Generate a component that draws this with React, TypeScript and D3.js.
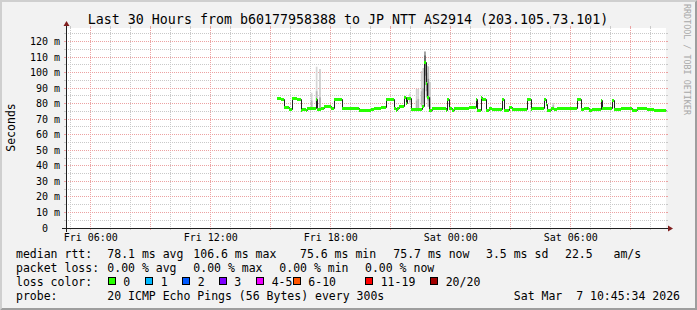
import React from 'react';
import * as d3 from 'd3';

// ---------- data ----------
const titleText = 'Last 30 Hours from b60177958388 to JP NTT AS2914 (203.105.73.101)';
const startTime = '2026-03-06T04:45:34';
const endTime = '2026-03-07T10:45:34';
const yMax = 128.7; // ms

const yMajorTicks = [0, 10, 20, 30, 40, 50, 60, 70, 80, 90, 100, 110, 120];
const yMinorTicks = [5, 15, 25, 35, 45, 55, 65, 75, 85, 95, 105, 115, 125];
const xLabelTimes = ['Fri 06:00', 'Fri 12:00', 'Fri 18:00', 'Sat 00:00', 'Sat 06:00'];

// median RTT (ms), constant runs: start of each run and its value
const runStart = [
  'Fri 15:20', 'Fri 15:30', 'Fri 15:40', 'Fri 15:55', 'Fri 16:05', 'Fri 16:20', 'Fri 16:30', 'Fri 16:35',
  'Fri 16:45', 'Fri 16:50', 'Fri 17:00', 'Fri 17:05', 'Fri 17:15', 'Fri 17:20', 'Fri 17:30', 'Fri 17:40',
  'Fri 18:00', 'Fri 18:10', 'Fri 18:35', 'Fri 19:05', 'Fri 19:25', 'Fri 20:00', 'Fri 20:10', 'Fri 20:30',
  'Fri 20:45', 'Fri 21:10', 'Fri 21:15', 'Fri 21:20', 'Fri 21:25', 'Fri 21:40', 'Fri 21:45', 'Fri 21:50',
  'Fri 22:00', 'Fri 22:35', 'Fri 22:40', 'Fri 22:45', 'Fri 22:50', 'Fri 22:55', 'Fri 23:05', 'Fri 23:30',
  'Fri 23:45', 'Fri 23:50', 'Fri 23:55', 'Sat 00:05', 'Sat 00:10', 'Sat 00:55', 'Sat 01:15', 'Sat 01:20',
  'Sat 01:25', 'Sat 01:30', 'Sat 01:35', 'Sat 01:45', 'Sat 01:55', 'Sat 02:05', 'Sat 02:35', 'Sat 02:40',
  'Sat 02:55', 'Sat 03:05', 'Sat 03:50', 'Sat 04:00', 'Sat 04:05', 'Sat 04:40', 'Sat 04:45', 'Sat 04:50',
  'Sat 05:00', 'Sat 05:10', 'Sat 05:20', 'Sat 05:55', 'Sat 06:20', 'Sat 06:30', 'Sat 06:40', 'Sat 06:55',
  'Sat 07:05', 'Sat 07:30', 'Sat 07:35', 'Sat 08:05', 'Sat 08:10', 'Sat 08:30', 'Sat 09:05', 'Sat 09:20',
  'Sat 09:50', 'Sat 10:10',
];
const runMedian = [
  83.5, 82.8, 78, 76.3, 83.7, 82.8, 75.8, 76.6,
  75.8, 77, 77.3, 77, 82.7, 76.5, 77.5, 78.2,
  77.4, 83.3, 77.3, 77, 75.8, 76.5, 77.3, 78,
  83.2, 77, 75.8, 77, 78.3, 84, 80.5, 83.5,
  76.5, 78.3, 106.6, 93, 84, 76, 77.5, 77,
  75.8, 82.7, 77, 76, 77, 78, 82.7, 75.8,
  76, 84, 83, 76.1, 77.3, 76.3, 82.9, 75.9,
  78, 76.3, 82.9, 76.5, 77, 82.9, 80, 75.9,
  77.3, 76.3, 77.3, 77, 83.3, 76.3, 77, 76,
  76.5, 82.5, 77, 82.5, 76.5, 77.3, 76, 77,
  76.5, 75.8,
];
const lastSampleEnd = 'Sat 10:45';

// smoke (spread of the 20 pings) where it shows beyond the median band
const smokeTime = ['Fri 17:00', 'Fri 17:15', 'Fri 17:25', 'Fri 21:55', 'Fri 22:15', 'Fri 22:20', 'Fri 22:30',
  'Fri 22:35', 'Fri 22:40', 'Fri 22:45', 'Fri 22:50', 'Fri 22:55', 'Sat 05:05'];
const smokeLo = [77, 78, 77, 80, 76, 76, 78, 78, 92, 84, 78, 76, 76];
const smokeHi = [87, 103.8, 102.3, 86.5, 89.5, 89.5, 101, 103, 113.6, 104.5, 104, 94, 80.5];
const smokeCoreLo = [78, 80, 77, 81, 77, 77, 79, 80, 98, 88, 82, 77, 77];
const smokeCoreHi = [82, 88, 84, 84, 82, 83, 88, 90, 111, 100, 96, 84, 79];
const smokeDensity = [0.15, 0.15, 0.25, 0.15, 0.2, 0.2, 0.2, 0.3, 0.85, 0.55, 0.45, 0.3, 0.15];

// legend
const rttLabel = 'median rtt:';
const rttItems = ['78.1 ms avg', '106.6 ms max', '75.6 ms min', '75.7 ms now', '3.5 ms sd', '22.5', 'am/s'];
const lossLabel = 'packet loss:';
const lossItems = ['0.00 % avg', '0.00 % max', '0.00 % min', '0.00 % now'];
const colorLabel = 'loss color:';
const lossNames = ['0', '1', '2', '3', '4-5', '6-10', '11-19', '20/20'];
const lossColors = ['#26ff00', '#00b8ff', '#0059ff', '#7e00ff', '#ee00ff', '#ff5500', '#ff0000', '#a10000'];
const probeLabel = 'probe:';
const probeText = '20 ICMP Echo Pings (56 Bytes) every 300s';
const stampText = 'Sat Mar\u00a0\u00a07 10:45:34 2026';
const yAxisTitle = 'Seconds';
const watermark = 'RRDTOOL / TOBI OETIKER';

// ---------- layout ----------
const W = 697, H = 310;
const X0 = 66, Y0 = 228, PW = 600, PH = 200;
const FONT = '"DejaVu Sans Mono", monospace';
const rttX = [107.3, 193.3, 300, 393.3, 486, 565, 613.5];
const lossX = [107.3, 193.3, 279.3, 365];
const boxX = [108.3, 145.7, 182.7, 219.3, 256.7, 293.3, 365.7, 430.7];

function T(s: string): Date {
  const day = s.startsWith('Fri') ? 6 : 7;
  const [hh, mm] = s.slice(4).split(':').map(Number);
  return new Date(2026, 2, day, hh, mm, 0);
}

export default function App() {
  const x = d3.scaleTime().domain([new Date(startTime), new Date(endTime)]).range([X0, X0 + PW]);
  const y = d3.scaleLinear().domain([0, yMax]).range([Y0, Y0 - PH]);
  const px = (d: Date) => Math.floor(x(d)) + 0.5;
  const py = (v: number) => Math.floor(y(v)) + 0.5;

  const hours = d3.timeHour.every(1)!.range(new Date(startTime), new Date(endTime));
  const minorV = hours.filter((h) => h.getHours() % 3 !== 0);
  const majorV = hours.filter((h) => h.getHours() % 3 === 0);

  const runs = runStart.map((s, i) => ({
    t0: T(s),
    t1: T(i + 1 < runStart.length ? runStart[i + 1] : lastSampleEnd),
    v: runMedian[i],
  }));
  const linePts: [Date, number][] = runs.map((r) => [r.t0, r.v] as [Date, number]);
  linePts.push([T(lastSampleEnd), runMedian[runMedian.length - 1]]);
  const medianPath = d3
    .line<[Date, number]>()
    .x((d) => Math.round(x(d[0])) + 0.5)
    .y((d) => Math.round(y(d[1])) + 0.5)
    .curve(d3.curveStepAfter)(linePts) || '';

  const step = 5 * 60 * 1000;
  const grayOuter = (d: number) => d3.rgb(228 - 95 * d, 228 - 95 * d, 228 - 95 * d).toString();
  const grayCore = (d: number) => d3.rgb(200 - 115 * d, 200 - 115 * d, 200 - 115 * d).toString();

  const hGrid = (vals: number[], color: string, key: string) =>
    vals.map((v) => (
      <g key={key + v}>
        <line x1={X0} x2={X0 + PW} y1={py(v)} y2={py(v)} stroke={color} strokeDasharray="1,1" />
        <line x1={X0 - 2} x2={X0} y1={py(v)} y2={py(v)} stroke={color} />
        <line x1={X0 + PW} x2={X0 + PW + 2} y1={py(v)} y2={py(v)} stroke={color} />
      </g>
    ));
  const vGrid = (vals: Date[], color: string, key: string) =>
    vals.map((d) => (
      <g key={key + d.getTime()}>
        <line x1={px(d)} x2={px(d)} y1={Y0 - PH} y2={Y0} stroke={color} strokeDasharray="1,1" />
        <line x1={px(d)} x2={px(d)} y1={Y0 - PH - 2} y2={Y0 - PH} stroke={color} />
        <line x1={px(d)} x2={px(d)} y1={Y0} y2={Y0 + 2} stroke={color} />
      </g>
    ));

  const minorColor = '#c9c9c9';
  const majorColor = '#eca2a2';
  const row1 = 258, row2 = 272, row3 = 286, row4 = 300;

  return (
    <svg width={W} height={H} style={{ position: 'absolute', left: 0, top: 0 }} fontFamily={FONT}>
      {/* background & bevel */}
      <rect x={0} y={0} width={W} height={H} fill="#f2f2f2" />
      <polygon points={`0,0 0,${H} 2,${H - 2} 2,2 ${W - 2},2 ${W},0`} fill="#cfcfcf" />
      <polygon points={`0,${H} ${W},${H} ${W},0 ${W - 2},2 ${W - 2},${H - 2} 2,${H - 2}`} fill="#9e9e9e" />
      {/* canvas */}
      <rect x={X0} y={Y0 - PH} width={PW} height={PH} fill="#ffffff" />

      {/* grid */}
      {hGrid(yMinorTicks, minorColor, 'hm')}
      {vGrid(minorV, minorColor, 'vm')}
      {hGrid(yMajorTicks.filter((v) => v > 0), majorColor, 'hM')}
      {vGrid(majorV, majorColor, 'vM')}

      {/* smoke */}
      {smokeTime.map((s, i) => {
        const t = T(s);
        const x0 = x(t), x1 = x(new Date(t.getTime() + step));
        return (
          <g key={'s' + i}>
            <rect x={x0} width={x1 - x0} y={y(smokeHi[i])} height={y(smokeLo[i]) - y(smokeHi[i])} fill={grayOuter(smokeDensity[i])} />
            <rect x={x0} width={x1 - x0} y={y(smokeCoreHi[i])} height={y(smokeCoreLo[i]) - y(smokeCoreHi[i])} fill={grayCore(smokeDensity[i])} />
          </g>
        );
      })}

      {/* median line */}
      <path d={medianPath} fill="none" stroke="#202020" strokeWidth={1} />
      {runs.map((r, i) => (
        <rect
          key={'g' + i}
          x={x(r.t0)}
          width={x(r.t1) - x(r.t0)}
          y={Math.round(y(r.v)) - 1}
          height={3}
          fill={lossColors[0]}
          shapeRendering="crispEdges"
        />
      ))}

      {/* axes */}
      <line x1={X0 - 4} x2={X0 + PW + 4} y1={Y0 + 0.5} y2={Y0 + 0.5} stroke="#1f1f1f" />
      <line x1={X0 + 0.5} x2={X0 + 0.5} y1={Y0 + 4} y2={Y0 - PH - 4} stroke="#1f1f1f" />
      <polygon
        points={`${X0 + PW + 2},${Y0 - 2.5} ${X0 + PW + 2},${Y0 + 3.5} ${X0 + PW + 7},${Y0 + 0.5}`}
        fill="#801f1f"
      />
      <polygon
        points={`${X0 - 2.5},${Y0 - PH - 2} ${X0 + 3.5},${Y0 - PH - 2} ${X0 + 0.5},${Y0 - PH - 7}`}
        fill="#801f1f"
      />

      {/* y tick labels */}
      {yMajorTicks.map((v) => (
        <text key={'yl' + v} x={60} dx={v === 0 ? -12 : 0} y={py(v) + 3.7} fontSize={10} textAnchor="end">
          {v === 0 ? '0' : `${v} m`}
        </text>
      ))}
      {/* x labels */}
      {xLabelTimes.map((s) => (
        <text key={'xl' + s} x={x(T(s))} y={240.7} fontSize={10} textAnchor="middle">
          {s}
        </text>
      ))}

      {/* titles */}
      <text x={348} y={24} fontSize={13.3} textAnchor="middle">{titleText}</text>
      <text transform={`translate(14.5,127.5) rotate(-90)`} fontSize={11.5} textAnchor="middle">{yAxisTitle}</text>
      <text transform={`translate(683.5,4) rotate(90)`} fontSize={8.4} fill="#a8a8a8">{watermark}</text>

      {/* legend */}
      <g fontSize={11.5}>
        <text x={16} y={row1}>{rttLabel}</text>
        {rttItems.map((s, i) => (
          <text key={'r' + i} x={rttX[i]} y={row1}>{s}</text>
        ))}
        <text x={16} y={row2}>{lossLabel}</text>
        {lossItems.map((s, i) => (
          <text key={'l' + i} x={lossX[i]} y={row2}>{s}</text>
        ))}
        <text x={16} y={row3}>{colorLabel}</text>
        {lossNames.map((s, i) => (
          <g key={'c' + i}>
            <rect x={Math.floor(boxX[i]) + 0.5} y={277.5} width={7} height={7} fill={lossColors[i]} stroke="#000" />
            <text x={boxX[i] + 15} y={row3}>{s}</text>
          </g>
        ))}
        <text x={16} y={row4}>{probeLabel}</text>
        <text x={107.3} y={row4}>{probeText}</text>
        <text x={680} y={row4} textAnchor="end">{stampText}</text>
      </g>
    </svg>
  );
}
